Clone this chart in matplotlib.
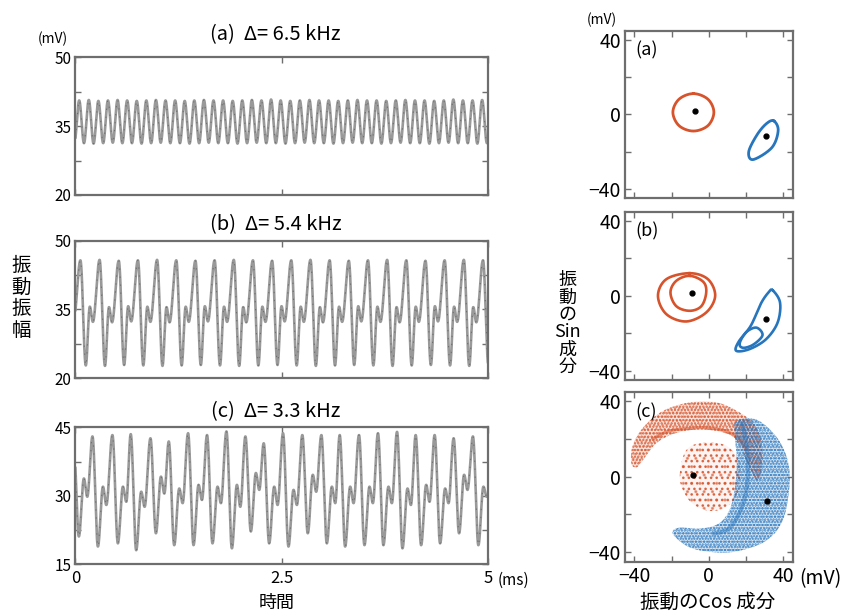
import numpy as np
import matplotlib.pyplot as plt
from matplotlib.colors import to_rgb
from matplotlib.patches import Polygon

plt.rcParams['font.family'] = ['Noto Sans CJK JP', 'DejaVu Sans']
plt.rcParams['hatch.linewidth'] = 1.1

# ================= DATA =================
# --- left: oscillation amplitude vs time (ms, mV) ---
# (a) Δ=6.5 kHz : near sinusoid, peaks / troughs per cycle
t0_a = 0.045
period_a = 0.1163
peak_a = [40.6, 40.7, 40.5, 40.6, 40.7, 40.6, 40.5, 40.6, 40.7, 40.6,
          40.6, 40.5, 40.6, 40.7, 40.6, 40.6, 40.5, 40.6, 40.7, 40.6,
          40.8, 40.6, 40.5, 40.6, 40.7, 40.6, 40.6, 40.5, 40.6, 40.7,
          40.6, 40.6, 40.5, 40.6, 40.7, 40.6, 40.6, 40.5, 40.6, 40.8,
          40.6, 40.6, 40.7]
trough_a = [31.3, 31.2, 31.3, 31.4, 31.3, 31.3, 31.2, 31.3, 31.4, 31.3,
            31.3, 31.2, 31.3, 31.4, 31.3, 31.3, 31.2, 31.3, 31.4, 31.3,
            31.3, 31.2, 31.3, 31.4, 31.3, 31.3, 31.2, 31.3, 31.4, 31.3,
            31.3, 31.2, 31.3, 31.4, 31.3, 31.3, 31.2, 31.3, 31.4, 31.3,
            31.3, 31.2, 31.3]

# (b) Δ=5.4 kHz : period-2 like waveform (peak, trough, bump, dip per cycle)
t0_b = 0.06
period_b = 0.2324
peak_b = [45.7, 45.8, 45.6, 45.7, 45.8, 45.7, 45.6, 45.7, 45.8, 45.7, 45.6,
          45.7, 45.8, 45.7, 45.6, 45.7, 45.8, 45.7, 45.6, 45.7, 45.8, 45.7]
trough_b = [22.8, 22.7, 22.9, 22.8, 22.7, 22.8, 22.9, 22.8, 22.7, 22.8, 22.9,
            22.8, 22.7, 22.8, 22.9, 22.8, 22.7, 22.8, 22.9, 22.8, 22.7, 23.0]
bump_b = [35.6, 35.5, 35.7, 35.6, 35.5, 35.6, 35.7, 35.6, 35.5, 35.6, 35.7,
          35.6, 35.5, 35.6, 35.7, 35.6, 35.5, 35.6, 35.7, 35.6, 35.5, 35.6]
dip_b = [32.3, 32.2, 32.4, 32.3, 32.2, 32.3, 32.4, 32.3, 32.2, 32.3, 32.4,
         32.3, 32.2, 32.3, 32.4, 32.3, 32.2, 32.3, 32.4, 32.3, 32.2, 32.3]

# (c) Δ=3.3 kHz : chaotic waveform, peak times read per cycle
peak_t_c = [-0.025, 0.206, 0.448, 0.670, 0.909, 1.131, 1.365, 1.595, 1.830,
            2.060, 2.282, 2.516, 2.750, 2.981, 3.203, 3.437, 3.667, 3.898,
            4.124, 4.354, 4.584, 4.818]
peak_c = [42.5, 43.0, 43.3, 43.5, 42.6, 41.9, 43.7, 43.3, 44.1, 43.0, 41.5,
          43.7, 43.3, 43.3, 43.3, 43.3, 43.7, 44.0, 43.3, 43.3, 42.6, 43.0]
trough_c = [21.1, 18.9, 19.6, 18.1, 21.8, 19.2, 19.2, 19.6, 18.5, 22.2, 19.6,
            18.9, 21.8, 19.6, 18.9, 19.2, 19.2, 18.5, 19.2, 19.6, 21.8, 19.2]
bump_c = [33.8, 32.0, 32.0, 30.9, 34.2, 31.6, 32.4, 32.0, 32.4, 35.0, 32.0,
          31.3, 34.6, 32.0, 32.0, 32.0, 32.0, 31.6, 32.4, 31.6, 34.6, 32.0]
dip_c = [29.8, 28.0, 28.7, 27.6, 30.5, 28.4, 29.1, 28.4, 27.6, 31.3, 28.0,
         28.0, 30.9, 28.4, 28.4, 28.4, 28.4, 28.0, 28.7, 28.4, 31.3, 29.8]

# --- right: phase portraits (Cos / Sin components, mV) ---
fixed_red = [(-7.5, 1.6), (-9.0, 1.4), (-8.5, 1.0)]
fixed_blue = [(30.7, -11.6), (30.7, -12.4), (31.2, -13.0)]

# (a) limit cycles
red_a_x = [-8.3, -0.5, 2.7, -0.5, -8.3, -16.0, -19.3, -16.0]
red_a_y = [11.2, 8.2, 1.2, -6.0, -8.9, -6.0, 1.2, 8.2]
blue_a_x = [34.8, 37.2, 33.8, 23.8, 21.4, 25.8, 30.8]
blue_a_y = [-3.4, -8.6, -17.8, -24.2, -20.0, -11.0, -5.0]

# (b) period-2 cycles (outer + inner loop)
red_b_outer_x = [-10.3, -0.5, 3.4, -1.4, -12.1, -22.8, -27.3, -22.8]
red_b_outer_y = [12.1, 8.9, 0.0, -8.9, -13.7, -9.8, 0.0, 8.9]
red_b_inner_x = [-10.3, -3.0, -1.4, -4.0, -10.3, -17.5, -20.6, -17.5]
red_b_inner_y = [10.7, 7.5, 1.8, -5.5, -8.0, -5.5, 1.8, 8.0]
blue_b_outer_x = [34.2, 38.2, 36.9, 30.7, 21.8, 14.7, 16.0, 22.5, 28.0, 32.0]
blue_b_outer_y = [3.0, -3.6, -14.3, -23.2, -28.5, -29.4, -24.5, -16.0, -4.0, 1.8]
blue_b_inner_x = [16.5, 20.0, 25.5, 28.8, 24.0, 18.5]
blue_b_inner_y = [-25.5, -19.5, -17.0, -21.0, -26.0, -27.8]

# (c) chaotic clouds (region outlines)
red_c_band_x = [-41.5, -41.0, -35.3, -24.6, -10.3, 4.0, 14.7, 23.5, 28.0, 28.5,
                26.0, 20.0, 17.3, 11.0, -3.2, -17.4, -28.1, -35.3, -38.8]
red_c_band_y = [7.0, 16.0, 26.0, 34.8, 39.3, 39.3, 35.0, 28.6, 19.6, 6.0,
                -2.0, 8.9, 16.0, 22.3, 25.0, 23.2, 17.8, 8.9, 5.0]
red_c_disc_x = [-14.0, -10.0, -2.0, 8.0, 14.0, 17.0, 16.0, 12.0, 4.0, -4.0, -11.0, -15.5]
red_c_disc_y = [10.0, 16.0, 18.0, 17.0, 12.0, 4.0, -6.0, -14.0, -18.0, -17.0, -12.0, -2.0]
red_c_spine_x = [-30.0, -22.0, -12.0, -2.0, 8.0, 15.0, 20.0]
red_c_spine_y = [20.0, 24.0, 25.5, 26.0, 24.5, 21.0, 15.0]
blue_c_band_x = [14.7, 25.3, 36.0, 42.2, 43.2, 39.6, 30.7, 16.4, 4.0, -10.3, -19.3,
                 -16.0, -5.0, 5.0, 11.0, 14.0, 15.0, 14.0]
blue_c_band_y = [29.4, 30.3, 21.4, 8.9, -5.3, -23.2, -33.9, -39.2, -40.1, -37.4, -30.3,
                 -27.0, -27.5, -25.0, -17.8, -6.0, 8.9, 21.4]
blue_c_spine_x = [18.0, 20.0, 21.0, 20.0, 16.0, 10.0, 3.0]
blue_c_spine_y = [28.0, 18.0, 6.0, -8.0, -20.0, -28.0, -30.0]

# ================= HELPERS =================
GRAY_LINE = '#999999'
FRAME = '#6e6e6e'
RED = '#d6532b'
BLUE = '#2775bd'


def wave(tk, vk, n=5000):
    tk = np.asarray(tk, float)
    vk = np.asarray(vk, float)
    t = np.linspace(tk[0], tk[-1], n)
    i = np.clip(np.searchsorted(tk, t, side='right') - 1, 0, len(tk) - 2)
    s = (t - tk[i]) / (tk[i + 1] - tk[i])
    w = (1 - np.cos(np.pi * s)) / 2
    return t, vk[i] + (vk[i + 1] - vk[i]) * w


def catmull(p, n, closed):
    m = len(p)
    u = np.linspace(0, 1, n, endpoint=False)[:, None]
    segs = []
    rng = range(m) if closed else range(1, m - 2)
    for k in rng:
        p0, p1, p2, p3 = p[k - 1], p[k], p[(k + 1) % m], p[(k + 2) % m]
        segs.append(0.5 * (2 * p1 + (-p0 + p2) * u + (2 * p0 - 5 * p1 + 4 * p2 - p3) * u ** 2
                           + (-p0 + 3 * p1 - 3 * p2 + p3) * u ** 3))
    return segs


def loop(xs, ys, n=30):
    p = np.column_stack([xs, ys]).astype(float)
    out = np.vstack(catmull(p, n, True) + [p[:1]])
    return out[:, 0], out[:, 1]


def open_curve(xs, ys, n=30):
    p = np.column_stack([xs, ys]).astype(float)
    p = np.vstack([p[:1], p, p[-1:]])
    out = np.vstack(catmull(p, n, False) + [p[-2:-1]])
    return out[:, 0], out[:, 1]


def style_frame(ax):
    for sp in ax.spines.values():
        sp.set_color(FRAME)
        sp.set_linewidth(1.6)
    ax.tick_params(which='both', direction='in', top=True, right=True,
                   color=FRAME, length=4, width=1.0, pad=3)


def draw_wave(ax, t, v):
    ax.plot(t, v, color=GRAY_LINE, lw=1.9, solid_capstyle='round')
    ax.plot(t, v, color='#404040', lw=0.8, dashes=(1.2, 6), alpha=0.45)


def cloud(ax, xs, ys, color, hatches, fill_alpha, z):
    x, y = loop(xs, ys, n=12)
    verts = np.column_stack([x, y])
    rgb = to_rgb(color)
    ax.add_patch(Polygon(verts, closed=True, facecolor=(*rgb, fill_alpha),
                         edgecolor='none', lw=0, zorder=z))
    for h, a in hatches:
        ax.add_patch(Polygon(verts, closed=True, facecolor='none',
                             edgecolor=(*rgb, a), hatch=h, lw=0, zorder=z))


# ================= KEYPOINTS =================
tk_a, vk_a = [t0_a - period_a / 2], [trough_a[-1]]
for k in range(len(peak_a)):
    tk_a += [t0_a + k * period_a, t0_a + (k + 0.5) * period_a]
    vk_a += [peak_a[k], trough_a[k]]

tk_b, vk_b = [t0_b - 0.36 * period_b], [dip_b[-1]]
for k in range(len(peak_b)):
    tp = t0_b + k * period_b
    tk_b += [tp, tp + 0.28 * period_b, tp + 0.49 * period_b, tp + 0.65 * period_b]
    vk_b += [peak_b[k], trough_b[k], bump_b[k], dip_b[k]]

tk_c, vk_c = [], []
for k in range(len(peak_c)):
    tp = peak_t_c[k]
    tk_c += [tp, tp + 0.066, tp + 0.127, tp + 0.168]
    vk_c += [peak_c[k], trough_c[k], bump_c[k], dip_c[k]]

# ================= FIGURE =================
fig = plt.figure(figsize=(8.48, 6.13), dpi=100)

left_x, left_w = 0.089, 0.4864
left_axes = [
    fig.add_axes([left_x, 0.6819, left_w, 0.2246]),
    fig.add_axes([left_x, 0.3829, left_w, 0.2246]),
    fig.add_axes([left_x, 0.0794, left_w, 0.2235]),
]
waves = [(tk_a, vk_a, (20, 50)), (tk_b, vk_b, (20, 50)), (tk_c, vk_c, (15, 45))]
titles = ['(a)  Δ= 6.5 kHz', '(b)  Δ= 5.4 kHz', '(c)  Δ= 3.3 kHz']
title_y = [0.943, 0.633, 0.328]

for ax, (tk, vk, (lo, hi)), ttl, ty in zip(left_axes, waves, titles, title_y):
    t, v = wave(tk, vk)
    draw_wave(ax, t, v)
    ax.set_xlim(0, 5)
    ax.set_ylim(lo, hi)
    mid = (lo + hi) / 2
    ax.set_yticks([lo, mid, hi])
    ax.set_yticklabels([f'{lo:g}', f'{mid:g}', f'{hi:g}'], fontsize=11)
    ax.set_yticks([(lo + mid) / 2, (mid + hi) / 2], minor=True)
    ax.set_xticks([0, 2.5, 5])
    style_frame(ax)
    fig.text(0.325, ty, ttl, ha='center', va='center', fontsize=14.5)

for ax in left_axes[:2]:
    ax.set_xticklabels([])
left_axes[2].set_xticklabels(['0', '2.5', '5'], fontsize=12)
left_axes[2].tick_params(axis='x', pad=4)

fig.text(0.062, 0.936, '(mV)', ha='center', va='center', fontsize=10)
fig.text(0.605, 0.053, '(ms)', ha='center', va='center', fontsize=11)
fig.text(0.326, 0.016, '時間', ha='center', va='center', fontsize=13)
fig.text(0.025, 0.514, '振\n動\n振\n幅', ha='center', va='center', fontsize=14,
         linespacing=1.05)

# right phase portraits
right_x, right_w = 0.737, 0.1978
right_axes = [
    fig.add_axes([right_x, 0.6765, right_w, 0.2735]),
    fig.add_axes([right_x, 0.3801, right_w, 0.2746]),
    fig.add_axes([right_x, 0.0837, right_w, 0.2773]),
]

ax = right_axes[0]
x, y = loop(red_a_x, red_a_y)
ax.plot(x, y, color=RED, lw=2.0)
x, y = loop(blue_a_x, blue_a_y)
ax.plot(x, y, color=BLUE, lw=2.0)

ax = right_axes[1]
for xs, ys, c in [(red_b_outer_x, red_b_outer_y, RED), (red_b_inner_x, red_b_inner_y, RED),
                  (blue_b_outer_x, blue_b_outer_y, BLUE), (blue_b_inner_x, blue_b_inner_y, BLUE)]:
    x, y = loop(xs, ys)
    ax.plot(x, y, color=c, lw=1.9)

ax = right_axes[2]
cloud(ax, red_c_band_x, red_c_band_y, RED, [('.....', 0.9), ('....', 0.6)], 0.16, 2)
cloud(ax, red_c_disc_x, red_c_disc_y, RED, [('...', 0.85), ('..', 0.5)], 0.06, 2)
cloud(ax, blue_c_band_x, blue_c_band_y, BLUE, [('......', 0.9), ('....', 0.55)], 0.16, 3)
x, y = open_curve(red_c_spine_x, red_c_spine_y)
ax.plot(x, y, color=RED, lw=2.2, alpha=0.55, zorder=2.5)
x, y = open_curve(blue_c_spine_x, blue_c_spine_y)
ax.plot(x, y, color=BLUE, lw=3.0, alpha=0.45, zorder=3.5)

labels = ['(a)', '(b)', '(c)']
for ax, lab, fr, fb in zip(right_axes, labels, fixed_red, fixed_blue):
    ax.plot(*fr, 'o', color='black', ms=3.5, zorder=5)
    ax.plot(*fb, 'o', color='black', ms=3.5, zorder=5)
    ax.set_xlim(-45, 45)
    ax.set_ylim(-45, 45)
    ax.set_xticks([-40, -20, 0, 20, 40])
    ax.set_yticks([-40, -20, 0, 20, 40])
    ax.set_yticklabels(['−40', '', '0', '', '40'], fontsize=14)
    ax.set_xticklabels([])
    style_frame(ax)
    ax.text(0.06, 0.88, lab, transform=ax.transAxes, fontsize=13, va='center', ha='left')

right_axes[2].set_xticklabels(['−40', '', '0', '', '40'], fontsize=14)

fig.text(0.710, 0.967, '(mV)', ha='center', va='center', fontsize=10)
fig.text(0.967, 0.056, '(mV)', ha='center', va='center', fontsize=14)
fig.text(0.835, 0.018, '振動のCos 成分', ha='center', va='center', fontsize=14)
fig.text(0.669, 0.472, '振\n動\nの\nSin\n成\n分', ha='center', va='center', fontsize=13,
         linespacing=0.95)

fig.savefig('out.png', dpi=100)
